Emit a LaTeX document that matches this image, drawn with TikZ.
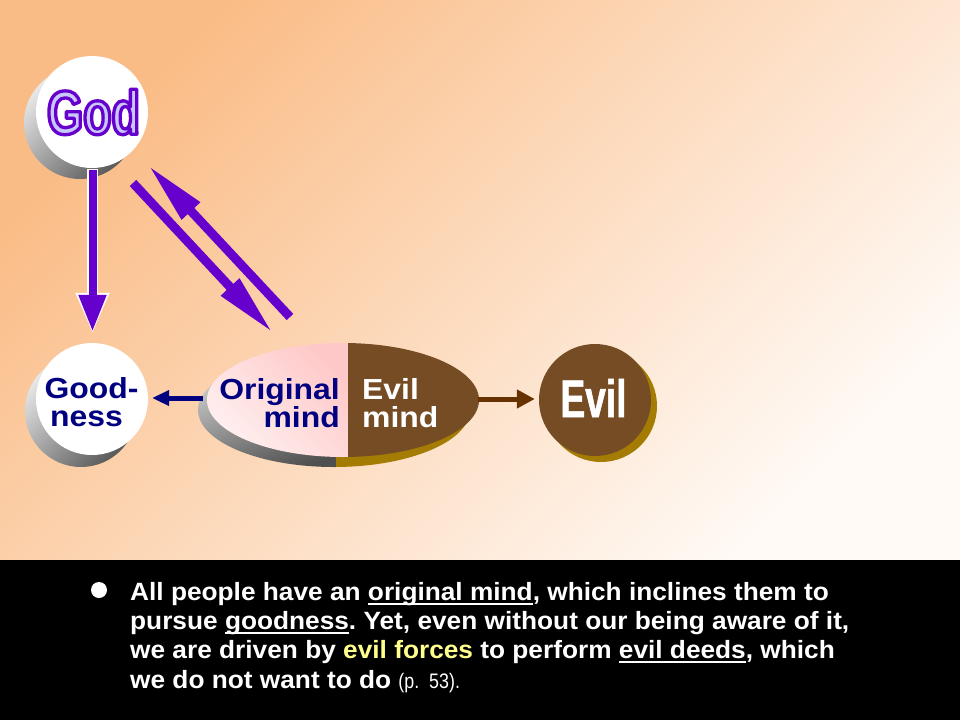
\documentclass[tikz,border=0pt]{standalone}
\usepackage{fontspec}
\setmainfont{Liberation Sans}
\newfontfamily\diafont[FakeStretch=1.1]{Liberation Sans}
\newfontfamily\bodyfont[FakeStretch=1.05]{Liberation Sans}
\newfontfamily\narrowfont[FakeStretch=0.85]{Liberation Sans}
\newfontfamily\impfont[FakeStretch=0.70,FakeBold=1]{Liberation Sans Bold}
\newfontfamily\godfam[FakeStretch=0.75]{Liberation Sans Bold}
\usetikzlibrary{arrows.meta,shapes.geometric,calc}
\definecolor{purp}{RGB}{102,0,204}
\definecolor{navyc}{RGB}{0,0,128}
\definecolor{brownc}{RGB}{117,76,36}
\definecolor{goldc}{RGB}{164,124,4}
\definecolor{arrbrown}{RGB}{102,51,0}
\definecolor{bgA}{RGB}{250,188,134}
\definecolor{bgM}{RGB}{254,222,196}
\definecolor{bgB}{RGB}{255,250,246}
\definecolor{pinkA}{RGB}{255,200,200}
\definecolor{pinkB}{RGB}{255,242,242}
\definecolor{lav}{RGB}{200,200,252}
\definecolor{yel}{RGB}{255,255,140}
\newcommand\myul[1]{\setbox0=\hbox{#1}\rlap{\rule[-5pt]{\wd0}{1.8pt}}\box0}
\newcommand\outlinetext[1]{\special{pdf:literal direct 2 Tr 3.3 w 1 j 0.4 0 0.8 RG}#1\special{pdf:literal direct 0 Tr 0.4 w 0 j}}
\frenchspacing
\begin{document}
\begin{tikzpicture}[x=1pt,y=-1pt,
  diatext/.style={font=\diafont\bfseries\fontsize{29}{30}\selectfont, inner sep=0},
  bodyline/.style={font=\bodyfont\bfseries\fontsize{25}{29}\selectfont, text=white, anchor=base west, inner sep=0},
  godfont/.style={font=\godfam\fontsize{62}{62}\selectfont, inner sep=0},
  graysh/.style={shading=axis, top color=gray!18, bottom color=gray!70!black, shading angle=45},
  purparrow/.style={draw=purp, line width=9pt, -{Triangle[length=63pt,width=23pt]}},
  disc/.style={circle, minimum size=112pt, inner sep=0}
]
\useasboundingbox (0,0) rectangle (960,720);
% background
\shade[shading=axis, top color=bgA, middle color=bgM, bottom color=bgB, shading angle=45] (0,0) rectangle (960,560);
\fill[black] (0,560) rectangle (960,720);

% God
\shade[graysh] (80,123) circle (56pt);
\node[disc, fill=white] (god) at (92,112) {};
\node[godfont, text=lav] (godtxt) at (93.5,112) {\outlinetext{God}};

% Goodness
\shade[graysh] (81,411) circle (56pt);
\node[disc, fill=white] (good) at (92,399) {};
\node[diatext, text=navyc, anchor=base] (goodt1) at (91.5,398) {Good-};
\node[diatext, text=navyc, anchor=base] (goodt2) at (86.5,426) {ness};

% mind ellipse
\node[ellipse, minimum width=272pt, minimum height=114pt, inner sep=0] (mind) at (343,400) {};
\begin{scope}
  \clip (334,410) ellipse (136pt and 57pt);
  \shade[shading=axis, top color=gray!22, bottom color=gray!62!black, shading angle=20] (190,345) rectangle (336,475);
  \fill[goldc] (336,345) rectangle (480,475);
\end{scope}
\begin{scope}
  \clip (343,400) ellipse (136pt and 57pt);
  \shade[shading=axis, top color=pinkA, bottom color=pinkB, shading angle=-45] (200,340) rectangle (348,460);
  \fill[brownc] (348,340) rectangle (485,460);
\end{scope}
\node[diatext, text=navyc, anchor=base east] (orig1) at (340,399) {Original};
\node[diatext, text=navyc, anchor=base east] (orig2) at (340,427) {mind};
\node[diatext, text=white, anchor=base west] (evilm1) at (362,399) {Evil};
\node[diatext, text=white, anchor=base west] (evilm2) at (362,427) {mind};

% Evil
\fill[goldc] (601,406) circle (56pt);
\node[disc, fill=brownc] (evil) at (595,400) {};
\node[font=\impfont\fontsize{53}{53}\selectfont, text=white, inner sep=0] (eviltxt) at (593.5,398) {Evil};

% arrows
\coordinate (gs) at ($(god.south)+(0.5,2)$);
\coordinate (ge) at ($(good.north)+(0.5,-11)$);
\draw[white, line width=11.5pt, -{Triangle[length=41pt,width=31pt]}] ($(gs)+(0,-1)$) -- ($(ge)+(0,2)$);
\draw[purp, line width=8pt, -{Triangle[length=37pt,width=26pt]}] (gs) -- (ge);

\coordinate (a1s) at (133,183);
\coordinate (a1e) at (273,333);
\coordinate (a2s) at (290,317);
\coordinate (a2e) at (148,165);
\draw[purparrow] (a1s) -- (a1e);
\draw[purparrow] (a2s) -- (a2e);

\coordinate (ls) at ($(mind.west)+(-4,-2)$);
\coordinate (le) at ($(good.east)+(4,-1)$);
\draw[navyc, line width=5pt, -{Triangle[length=17pt,width=15pt]}] (ls) -- (le);

\coordinate (rs) at ($(mind.east)+(-1,-1)$);
\coordinate (re) at ($(evil.west)+(-4,-1)$);
\draw[arrbrown, line width=5pt, -{Triangle[length=18pt,width=18pt]}] (rs) -- (re);

% bottom text
\node[circle, fill=white, minimum size=16pt, inner sep=0] (bullet) at (99,590) {};
\node[bodyline] (l1) at (130,600) {All people have an \myul{original mind}, which inclines them to};
\node[bodyline] (l2) at (130,629) {pursue \myul{goodness}. Yet, even without our being aware of it,};
\node[bodyline] (l3) at (130,658) {we are driven by \textcolor{yel}{evil forces} to perform \myul{evil deeds}, which};
\node[bodyline] (l4) at (130,688) {we do not want to do {\narrowfont\mdseries\fontsize{21}{22}\selectfont (p.\ \ 53).}};
\end{tikzpicture}
\end{document}
